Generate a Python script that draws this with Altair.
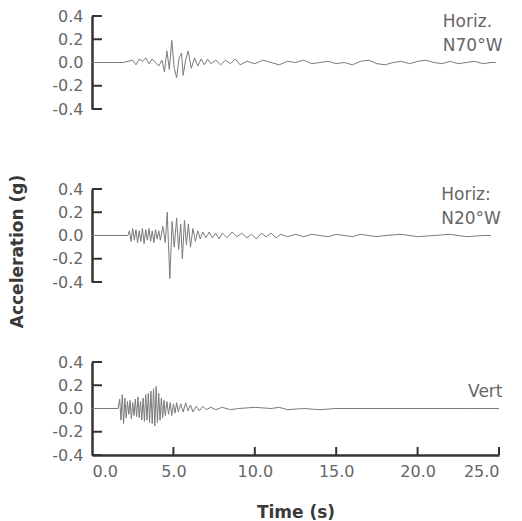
import altair as alt
import pandas as pd

# ---------------- data ----------------
# Horizontal component N70°W : (time s, acceleration g)
N70W = [
    (0.0, 0.0), (1.9, 0.0), (2.5, 0.02), (2.7, -0.02), (2.9, 0.03), (3.1, 0.01),
    (3.3, 0.04), (3.5, -0.01), (3.7, 0.03), (3.9, 0.0), (4.1, -0.03), (4.3, 0.02),
    (4.45, -0.08), (4.6, 0.1), (4.75, -0.06), (4.9, 0.19), (5.05, -0.05), (5.2, -0.13),
    (5.35, 0.04), (5.5, 0.08), (5.6, -0.11), (5.75, 0.02), (5.9, 0.1), (6.1, -0.05),
    (6.3, 0.04), (6.5, -0.03), (6.7, 0.03), (6.9, -0.02), (7.1, 0.03), (7.3, -0.01),
    (7.6, 0.02), (7.9, -0.02), (8.2, 0.02), (8.5, -0.01), (8.8, 0.03), (9.1, -0.02),
    (9.5, 0.01), (10.0, -0.01), (10.5, 0.02), (11.0, 0.0), (11.5, -0.02), (12.0, 0.01),
    (12.5, 0.0), (13.0, 0.02), (13.5, -0.01), (14.0, 0.0), (14.5, 0.01), (15.0, -0.01),
    (15.5, 0.0), (16.0, -0.02), (16.5, 0.01), (17.0, 0.02), (17.5, -0.01), (18.0, -0.02),
    (18.5, 0.0), (19.0, 0.01), (19.5, -0.01), (20.0, 0.01), (20.5, 0.02), (21.0, 0.0),
    (21.5, -0.01), (22.0, 0.01), (22.5, -0.01), (23.0, 0.0), (23.5, 0.01), (24.0, -0.01),
    (24.5, 0.0), (24.8, 0.0),
]

# Horizontal component N20°W
N20W = [
    (0.0, 0.0), (2.2, 0.0), (2.3, 0.04), (2.4, -0.05), (2.5, 0.06), (2.6, -0.04),
    (2.7, 0.05), (2.8, -0.06), (2.9, 0.04), (3.0, -0.05), (3.1, 0.06), (3.2, -0.07),
    (3.3, 0.05), (3.4, -0.04), (3.5, 0.06), (3.6, -0.05), (3.7, 0.04), (3.8, -0.06),
    (3.9, 0.05), (4.0, -0.03), (4.1, 0.04), (4.2, -0.04), (4.35, 0.08), (4.5, -0.06),
    (4.62, 0.2), (4.78, -0.37), (4.92, 0.12), (5.05, -0.1), (5.2, 0.15), (5.32, -0.12),
    (5.45, 0.1), (5.55, -0.2), (5.68, 0.13), (5.8, -0.08), (5.92, 0.1), (6.05, -0.1),
    (6.2, 0.06), (6.35, -0.05), (6.5, 0.04), (6.65, -0.03), (6.8, 0.03), (7.0, -0.02),
    (7.2, 0.03), (7.4, -0.02), (7.6, 0.02), (7.8, -0.03), (8.0, 0.02), (8.3, -0.02),
    (8.6, 0.03), (8.9, -0.01), (9.2, 0.02), (9.5, -0.02), (9.8, 0.01), (10.1, -0.03),
    (10.4, 0.02), (10.7, -0.01), (11.0, 0.02), (11.3, -0.02), (11.6, 0.01), (12.0, -0.01),
    (12.5, 0.01), (13.0, -0.01), (13.5, 0.01), (14.0, 0.0), (14.5, -0.01), (15.0, 0.01),
    (15.5, 0.0), (16.0, -0.01), (16.5, 0.01), (17.0, 0.0), (17.5, -0.01), (18.0, 0.0),
    (19.0, 0.01), (20.0, -0.01), (21.0, 0.0), (22.0, 0.01), (23.0, -0.01), (24.0, 0.0),
    (24.5, 0.0),
]

# Vertical component
VERT = [
    (0.0, 0.0), (1.6, 0.0), (1.7, 0.08), (1.78, -0.1), (1.86, 0.12), (1.94, -0.13),
    (2.02, 0.09), (2.1, -0.08), (2.18, 0.06), (2.26, -0.05), (2.34, 0.07), (2.42, -0.09),
    (2.5, 0.05), (2.58, -0.06), (2.66, 0.08), (2.74, -0.07), (2.82, 0.1), (2.9, -0.08),
    (2.98, 0.06), (3.06, -0.1), (3.14, 0.09), (3.22, -0.11), (3.3, 0.12), (3.38, -0.1),
    (3.46, 0.13), (3.54, -0.12), (3.62, 0.15), (3.7, -0.13), (3.78, 0.17), (3.86, -0.15),
    (3.94, 0.19), (4.02, -0.12), (4.1, 0.13), (4.18, -0.1), (4.26, 0.09), (4.34, -0.08),
    (4.42, 0.07), (4.5, -0.06), (4.6, 0.06), (4.7, -0.05), (4.8, 0.05), (4.9, -0.06),
    (5.0, 0.04), (5.1, -0.04), (5.2, 0.05), (5.3, -0.03), (5.45, 0.04), (5.6, -0.03),
    (5.75, 0.05), (5.9, -0.02), (6.05, 0.03), (6.2, -0.03), (6.4, 0.02), (6.6, -0.02),
    (6.8, 0.02), (7.0, -0.01), (7.3, 0.01), (7.6, -0.01), (8.0, 0.01), (8.5, -0.01),
    (9.0, 0.0), (10.0, 0.01), (11.0, 0.0), (11.5, 0.01), (12.0, -0.01), (13.0, 0.0),
    (14.0, -0.01), (15.0, 0.0), (17.0, 0.0), (19.0, 0.0), (21.0, 0.0), (23.0, 0.0),
    (25.0, 0.0),
]

Y_TICKS = [-0.4, -0.2, 0.0, 0.2, 0.4]
Y_MARKS = [-0.4, -0.2, 0.2, 0.4]
X_TICKS = [0, 5, 10, 15, 20, 25]
X_MARKS = [5, 10, 15, 20, 25]

LABEL_TOP = [(21.55, 0.345, "Horiz."), (21.55, 0.145, "N70°W")]
LABEL_MID = [(21.45, 0.345, "Horiz:"), (21.45, 0.145, "N20°W")]
LABEL_BOT = [(23.1, 0.145, "Vert")]

# ---------------- chart ----------------
W, H = 407, 93
FONT = "DejaVu Sans"
AXIS_COLOR = "#333333"
TEXT_COLOR = "#666666"
LINE_COLOR = "#7a7a7a"
HYPHEN_LABEL = "datum.value < 0 ? '-' + format(-datum.value, '.1f') : format(datum.value, '.1f')"

xs = alt.Scale(domain=[0, 25], nice=False, zero=False)
ys = alt.Scale(domain=[-0.4, 0.4], nice=False)


def panel(series, labels, show_x=False, ytitle=False):
    df = pd.DataFrame(series, columns=["t", "a"])
    yaxis_kw = dict(
        values=Y_TICKS, tickCount=5, labelExpr=HYPHEN_LABEL, ticks=False, grid=False,
        domainColor=AXIS_COLOR, domainWidth=2.5, labelOverlap=False,
        labelFont=FONT, labelFontSize=16, labelColor=TEXT_COLOR, labelPadding=9,
    )
    if ytitle:
        yaxis_kw.update(
            title="Acceleration (g)", titleFont=FONT, titleFontSize=17,
            titleFontWeight="bold", titleColor="#3a3a3a", titleX=-66, titleY=62,
        )
    else:
        yaxis_kw.update(title=None)
    yaxis = alt.Axis(**yaxis_kw)

    if show_x:
        xaxis = alt.Axis(
            values=X_TICKS, tickCount=6, format=".1f", ticks=False, grid=False,
            domainColor=AXIS_COLOR, domainWidth=2.5, labelOverlap=False,
            labelFont=FONT, labelFontSize=16, labelColor=TEXT_COLOR, labelPadding=8,
            title="Time (s)", titleFont=FONT, titleFontSize=17,
            titleFontWeight="bold", titleColor="#3a3a3a", titlePadding=25,
        )
    else:
        xaxis = None

    trace = alt.Chart(df).mark_line(color=LINE_COLOR, strokeWidth=1).encode(
        x=alt.X("t:Q", scale=xs, axis=xaxis),
        y=alt.Y("a:Q", scale=ys, axis=yaxis),
    )
    yt = alt.Chart(pd.DataFrame({"a": Y_MARKS})).mark_rule(
        color=AXIS_COLOR, strokeWidth=2
    ).encode(y=alt.Y("a:Q", scale=ys), x=alt.value(0), x2=alt.value(10))

    ldf = pd.DataFrame(labels, columns=["t", "a", "txt"])
    txt = alt.Chart(ldf).mark_text(
        align="left", baseline="middle", font=FONT, fontSize=17, color=TEXT_COLOR
    ).encode(x=alt.X("t:Q", scale=xs), y=alt.Y("a:Q", scale=ys), text="txt:N")

    layers = [trace, yt, txt]
    if show_x:
        xt = alt.Chart(pd.DataFrame({"t": X_MARKS})).mark_rule(
            color=AXIS_COLOR, strokeWidth=2
        ).encode(x=alt.X("t:Q", scale=xs), y=alt.value(H), y2=alt.value(H - 8))
        layers.append(xt)
    return alt.layer(*layers).properties(width=W, height=H)


chart = alt.vconcat(
    panel(N70W, LABEL_TOP),
    panel(N20W, LABEL_MID, ytitle=True),
    panel(VERT, LABEL_BOT, show_x=True),
    spacing=80,
    bounds="flush",
).properties(
    padding={"left": 0, "top": 0, "right": 0, "bottom": 0},
    background="white",
).configure_view(stroke=None)

chart.save("out.html", embed_options={"renderer": "svg", "actions": False})
